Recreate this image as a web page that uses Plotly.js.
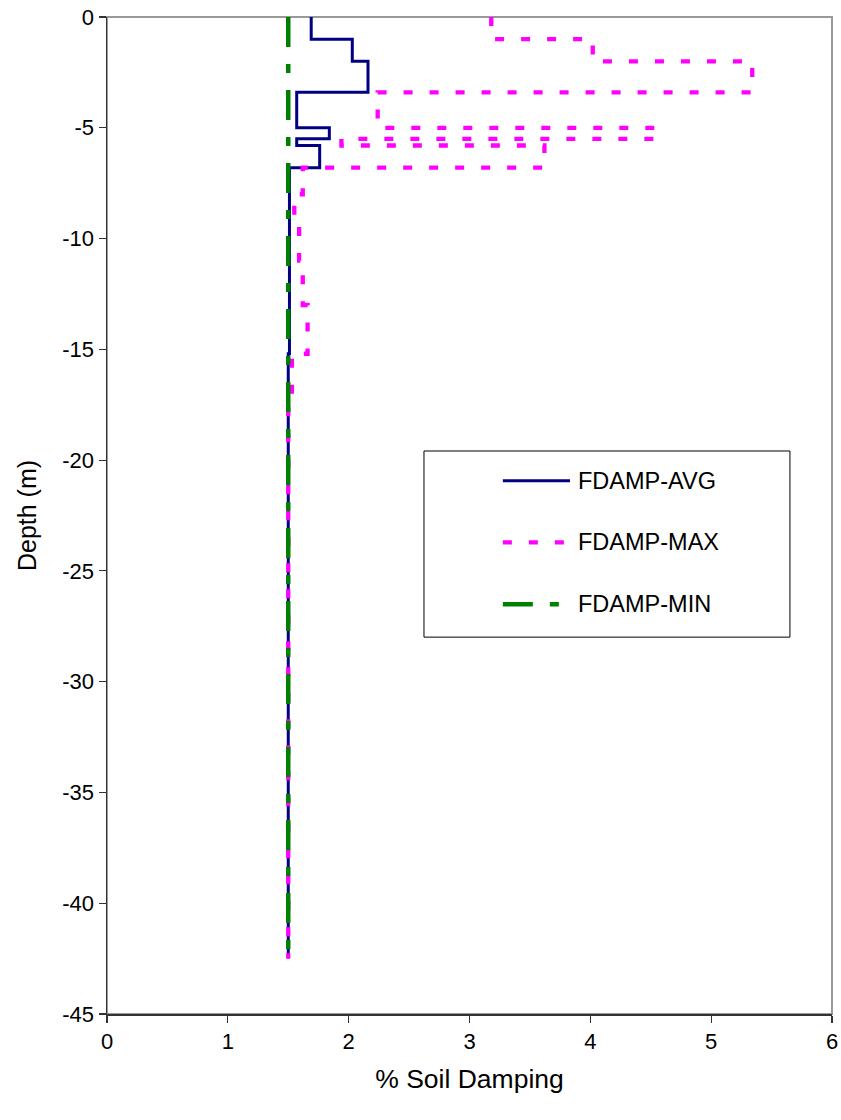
<!DOCTYPE html>
<html>
<head>
<meta charset="utf-8">
<script src="https://cdn.plot.ly/plotly-3.0.1.min.js"></script>
<style>
html,body{margin:0;padding:0;background:#fff;}
#chart{width:841px;height:1120px;}
</style>
</head>
<body>
<div id="chart"></div>
<script>
// Series names
const seriesNames = ["FDAMP-AVG", "FDAMP-MAX", "FDAMP-MIN"];

// Layer top depths (m) and damping values (%) — last entry is the profile bottom
const depthAvg = [0, -1.0, -2.0, -3.4, -5.0, -5.5, -5.8, -6.8, -15.2, -42.5];
const dampAvg  = [1.69, 2.03, 2.16, 1.57, 1.84, 1.57, 1.76, 1.51, 1.50, 1.50];

const depthMax = [0, -1.0, -2.0, -3.4, -5.0, -5.5, -5.8, -6.8, -8.0, -9.4, -11.0, -13.0, -15.2, -17.5, -42.5];
const dampMax  = [3.18, 4.02, 5.34, 2.24, 4.55, 1.94, 3.62, 1.62, 1.55, 1.59, 1.62, 1.66, 1.53, 1.50, 1.50];

const depthMin = [0, -42.5];
const dampMin  = [1.5, 1.5];

// Axis ticks
const xTicks = [0, 1, 2, 3, 4, 5, 6];
const yTicks = [0, -5, -10, -15, -20, -25, -30, -35, -40, -45];

const colors = ["#000080", "#FF00FF", "#008000"];
const dashes = ["solid", "9px,17px", "30px,17px,9px,17px"];
const widths = [3, 4.3, 4.5];

const FONT = "Liberation Sans, Arial, sans-serif";

const traces = [
  {x: dampAvg, y: depthAvg},
  {x: dampMax, y: depthMax},
  {x: dampMin, y: depthMin}
].map((d, i) => ({
  x: d.x, y: d.y, type: "scatter", mode: "lines", name: seriesNames[i],
  line: {shape: "vh", color: colors[i], width: widths[i], dash: dashes[i]},
  showlegend: false, hoverinfo: "skip"
}));

// Custom legend (box, sample lines, labels) in paper coordinates
const legRows = [0.5349, 0.4731, 0.4109];
const shapes = [
  {type: "rect", xref: "paper", yref: "paper", x0: 0, x1: 1, y0: 0, y1: 1,
   line: {color: "#999", width: 2}, layer: "below"},
  {type: "rect", xref: "paper", yref: "paper", x0: 0.4372, x1: 0.942, y0: 0.378, y1: 0.5647,
   line: {color: "#000", width: 1}, fillcolor: "#fff", layer: "above"}
];
const annotations = [];
seriesNames.forEach((n, i) => {
  shapes.push({type: "line", xref: "paper", yref: "paper", x0: 0.546, x1: 0.6386,
    y0: legRows[i], y1: legRows[i], line: {color: colors[i], width: widths[i], dash: dashes[i]}, layer: "above"});
  annotations.push({xref: "paper", yref: "paper", x: 0.6465, y: legRows[i], xanchor: "left", yanchor: "middle",
    text: n, showarrow: false, font: {family: FONT, size: 23.5, color: "#000"}});
});

const layout = {
  width: 841, height: 1120,
  margin: {l: 107, r: 9, t: 17, b: 106},
  paper_bgcolor: "#fff", plot_bgcolor: "#fff",
  font: {family: FONT, color: "#000"},
  showlegend: false,
  xaxis: {
    range: [0, 6], tickvals: xTicks, ticktext: xTicks.map(String),
    showgrid: false, zeroline: false,
    showline: true, linecolor: "#333", linewidth: 1.5,
    ticks: "outside", ticklen: 7, tickcolor: "#333", tickwidth: 1.2,
    tickfont: {family: FONT, size: 22, color: "#000"},
    title: {text: "% Soil Damping", font: {family: FONT, size: 26.5, color: "#000"}, standoff: 16}
  },
  yaxis: {
    range: [-45, 0], tickvals: yTicks, ticktext: yTicks.map(String),
    showgrid: false, zeroline: false,
    showline: true, linecolor: "#333", linewidth: 1.5,
    ticks: "outside", ticklen: 7, tickcolor: "#333", tickwidth: 1.2,
    tickfont: {family: FONT, size: 22, color: "#000"},
    title: {text: "Depth (m)", font: {family: FONT, size: 25, color: "#000"}, standoff: 18}
  },
  shapes: shapes,
  annotations: annotations
};

Plotly.newPlot("chart", traces, layout, {displayModeBar: false, staticPlot: true});
</script>
</body>
</html>
